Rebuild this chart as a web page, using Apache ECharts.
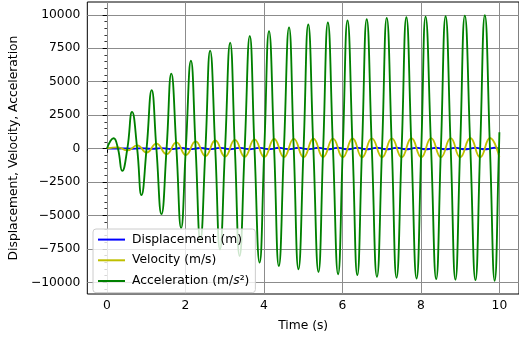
<!DOCTYPE html>
<html>
<head>
<meta charset="utf-8">
<script src="https://cdn.jsdelivr.net/npm/echarts@6/dist/echarts.min.js"></script>
<style>
  html, body { margin: 0; padding: 0; background: #fff; }
  #chart { width: 519px; height: 337px; }
</style>
</head>
<body>
<div id="chart"></div>
<script>
// time points (s): extremes and zero crossings of the acceleration trace
const tAcc = [0,
  0.17, 0.28, 0.39, 0.52,  0.64, 0.77, 0.88, 1.01,  1.14, 1.26, 1.39, 1.52,  1.64, 1.77, 1.89, 2.01,
  2.14, 2.26, 2.38, 2.51,  2.63, 2.76, 2.88, 3.01,  3.14, 3.26, 3.38, 3.51,  3.64, 3.76, 3.89, 4.01,
  4.13, 4.26, 4.38, 4.51,  4.64, 4.76, 4.88, 5.01,  5.13, 5.26, 5.39, 5.51,  5.63, 5.76, 5.89, 6.01,
  6.13, 6.26, 6.38, 6.50,  6.62, 6.75, 6.88, 7.01,  7.13, 7.26, 7.38, 7.51,  7.63, 7.76, 7.89, 8.01,
  8.12, 8.26, 8.39, 8.51,  8.63, 8.76, 8.88, 9.00,  9.12, 9.26, 9.39, 9.51,  9.63, 9.76, 9.88, 9.99,
  10.0];

const acceleration = [0,
  770, 0, -1672, 0,  2737, 0, -3476, 0,  4364, 0, -4905, 0,  5600, 0, -5940, 0,
  6561, 0, -6850, 0,  7323, 0, -7540, 0,  7914, 0, -8034, 0,  8410, 0, -8530, 0,
  8780, 0, -8775, 0,  9053, 0, -9024, 0,  9275, 0, -9220, 0,  9423, 0, -9394, 0,
  9571, 0, -9468, 0,  9667, 0, -9590, 0,  9763, 0, -9663, 0,  9815, 0, -9712, 0,
  9867, 0, -9763, 0,  9890, 0, -9808, 0,  9941, 0, -9837, 0,  9963, 0, -9882, 0,
  1213];

// displacement is tiny on this scale, sampled at the same instants
const displacement = [0,
  -5, 0, 11, 0,  -17, 0, 22, 0,  -28, 0, 31, 0,  -35, 0, 38, 0,
  -42, 0, 43, 0,  -46, 0, 48, 0,  -50, 0, 51, 0,  -53, 0, 54, 0,
  -56, 0, 56, 0,  -57, 0, 57, 0,  -59, 0, 58, 0,  -60, 0, 59, 0,
  -61, 0, 60, 0,  -61, 0, 61, 0,  -62, 0, 61, 0,  -62, 0, 61, 0,
  -62, 0, 62, 0,  -63, 0, 62, 0,  -63, 0, 62, 0,  -63, 0, 63, 0,
  -8];

// velocity extremes (at the acceleration zero crossings)
const tVel = [0,
  0.28, 0.52, 0.77, 1.01, 1.26, 1.52, 1.77, 2.01, 2.26, 2.51,
  2.76, 3.01, 3.26, 3.51, 3.76, 4.01, 4.26, 4.51, 4.76, 5.01,
  5.26, 5.51, 5.76, 6.01, 6.26, 6.50, 6.75, 7.01, 7.26, 7.51,
  7.76, 8.01, 8.26, 8.51, 8.76, 9.00, 9.26, 9.51, 9.76, 10.0];

const velocity = [0,
  90, -140, 240, -300, 370, -420, 460, -490, 540, -560,
  600, -600, 650, -620, 690, -630, 710, -640, 720, -640,
  730, -640, 740, -650, 750, -650, 760, -650, 765, -650,
  770, -650, 775, -650, 780, -650, 785, -650, 790, -650];

const xMajor = [0, 2, 4, 6, 8, 10];
const xMinor = [-0.5, 0.5, 1, 1.5, 2.5, 3, 3.5, 4.5, 5, 5.5, 6.5, 7, 7.5, 8.5, 9, 9.5, 10.5];
const yMajor = [-10000, -7500, -5000, -2500, 0, 2500, 5000, 7500, 10000];
const yMinor = [-10500, -9500, -9000, -8500, -8000, -7000, -6500, -6000, -5500, -4500, -4000, -3500, -3000,
  -2000, -1500, -1000, -500, 500, 1000, 1500, 2000, 3000, 3500, 4000, 4500, 5500, 6000, 6500, 7000,
  8000, 8500, 9000, 9500, 10500];

const X_MIN = -0.5, X_MAX = 10.5;
const Y_MIN = -10874, Y_MAX = 10955;

const FONT = 'DejaVu Sans';
const ACC_NAME = 'Acceleration (m/s²)';
const minus = v => String(v).replace('-', '\u2212');

const chart = echarts.init(document.getElementById('chart'));

const tickLine = { color: '#000', width: 1 };
const gridLine = { color: '#8c8c8c', width: 1 };

chart.setOption({
  animation: false,
  textStyle: { fontFamily: FONT },
  grid: { left: 86, top: 2, width: 435, height: 294, show: true, borderColor: '#000', borderWidth: 1 },
  legend: {
    left: 93, top: 229, orient: 'vertical',
    itemWidth: 27, itemHeight: 14, itemGap: 7.5,
    padding: [4, 6, 5, 4],
    backgroundColor: 'rgba(255,255,255,0.8)',
    borderColor: '#cccccc', borderWidth: 1, borderRadius: 3,
    itemStyle: { opacity: 0 },
    textStyle: {
      fontFamily: FONT, fontSize: 12.3, color: '#000', padding: [0, 0, 0, 2],
      rich: {
        it: { fontFamily: FONT, fontSize: 12.3, fontStyle: 'italic', color: '#000' }
      }
    },
    formatter: n => n === ACC_NAME ? 'Acceleration (m/{it|s}²)' : n,
    data: ['Displacement (m)', 'Velocity (m/s)', ACC_NAME]
  },
  xAxis: [
    {
      type: 'value', min: X_MIN, max: X_MAX,
      name: 'Time (s)', nameLocation: 'middle', nameGap: 26,
      nameTextStyle: { fontFamily: FONT, fontSize: 12.3, color: '#000' },
      axisLine: { show: false },
      axisTick: { show: true, customValues: xMajor, length: 4.3, lineStyle: tickLine },
      axisLabel: { customValues: xMajor, fontFamily: FONT, fontSize: 12.3, color: '#000', margin: 6 },
      splitLine: { show: true, lineStyle: gridLine }
    },
    {
      type: 'value', min: X_MIN, max: X_MAX, position: 'bottom',
      axisLine: { show: false },
      axisTick: { show: true, customValues: xMinor, length: 2.5, lineStyle: { color: '#000', width: 0.8 } },
      axisLabel: { show: false },
      splitLine: { show: false }
    }
  ],
  yAxis: [
    {
      type: 'value', min: Y_MIN, max: Y_MAX,
      name: 'Displacement, Velocity, Acceleration', nameLocation: 'middle', nameGap: 60,
      nameTextStyle: { fontFamily: FONT, fontSize: 12.3, color: '#000' },
      axisLine: { show: false },
      axisTick: { show: true, customValues: yMajor, length: 4.3, lineStyle: tickLine },
      axisLabel: { customValues: yMajor, fontFamily: FONT, fontSize: 12.3, color: '#000', margin: 7, formatter: minus },
      splitLine: { show: true, lineStyle: gridLine }
    },
    {
      type: 'value', min: Y_MIN, max: Y_MAX, position: 'left',
      axisLine: { show: false },
      axisTick: { show: true, customValues: yMinor, length: 2.5, lineStyle: { color: '#000', width: 0.8 } },
      axisLabel: { show: false },
      splitLine: { show: false }
    }
  ],
  series: [
    {
      name: 'Displacement (m)', type: 'line', showSymbol: false, smooth: 0.5,
      data: tAcc.map((t, i) => [t, displacement[i]]),
      lineStyle: { color: '#0000ff', width: 1.85 }, itemStyle: { color: '#0000ff' }
    },
    {
      name: 'Velocity (m/s)', type: 'line', showSymbol: false, smooth: 0.5,
      data: tVel.map((t, i) => [t, velocity[i]]),
      lineStyle: { color: '#bfbf00', width: 1.85 }, itemStyle: { color: '#bfbf00' }
    },
    {
      name: ACC_NAME, type: 'line', showSymbol: false, smooth: 0.5,
      data: tAcc.map((t, i) => [t, acceleration[i]]),
      lineStyle: { color: '#008000', width: 1.85 }, itemStyle: { color: '#008000' }
    }
  ]
});
</script>
</body>
</html>
